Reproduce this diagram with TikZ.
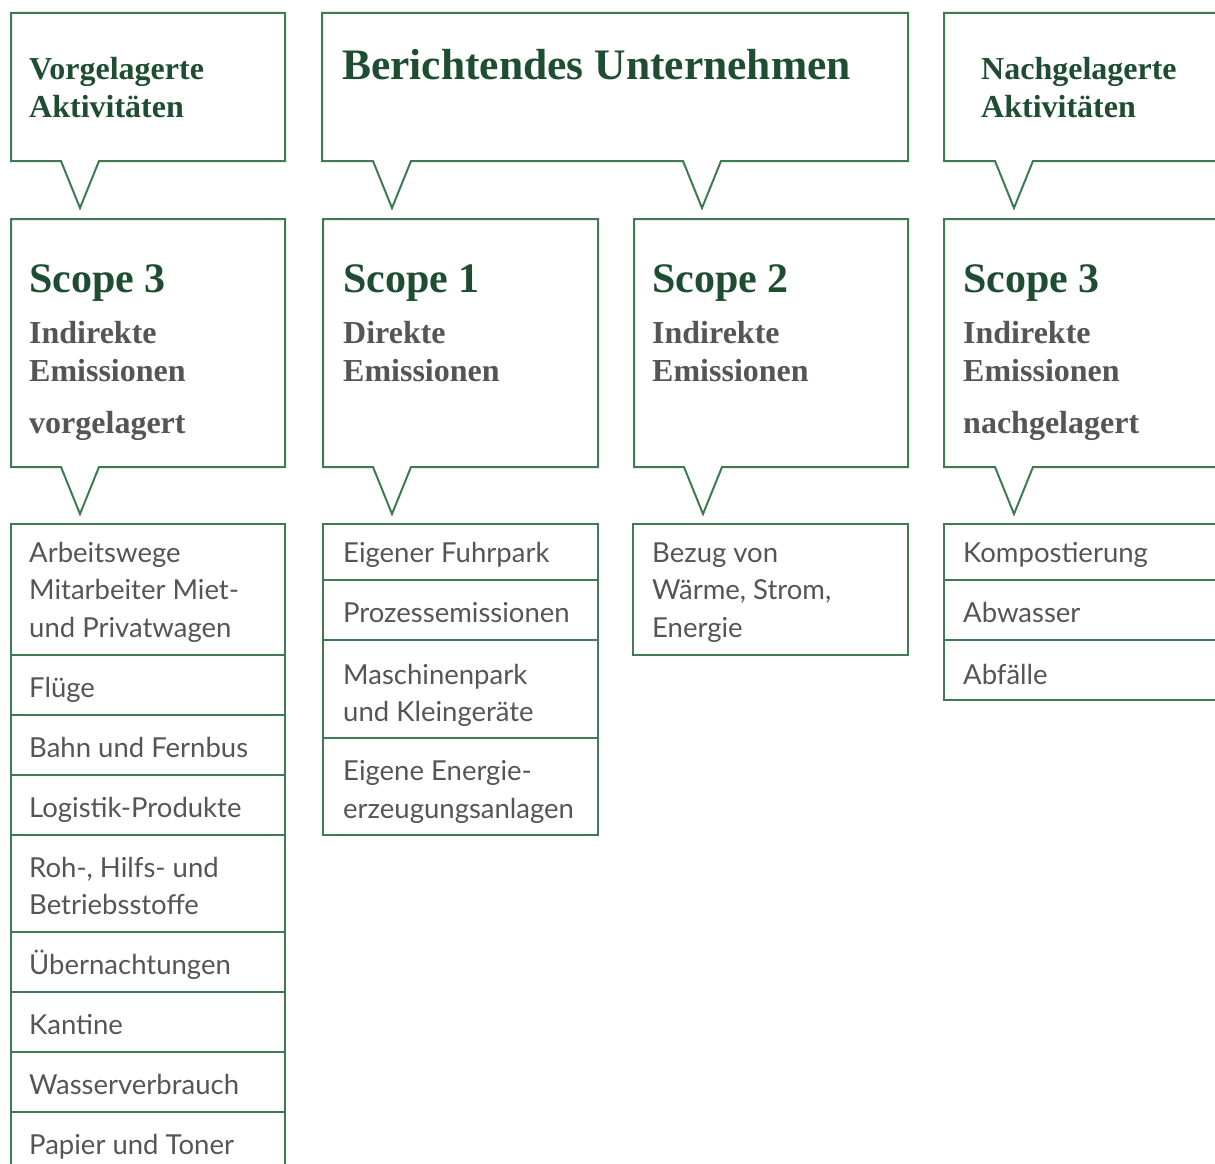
\documentclass[tikz,border=0pt]{standalone}
\usepackage{fontspec}
\setmainfont{Liberation Serif}
\newfontfamily\lato{Lato}
\definecolor{frame}{HTML}{3F7A55}
\definecolor{head}{HTML}{1F4D31}
\definecolor{txt}{HTML}{555555}
\tikzset{
  frm/.style={draw=frame, line width=2pt, line join=miter},
  item/.style={anchor=base west, inner sep=0pt, text=txt, align=left,
    font=\lato\fontsize{27.5}{37.5}\selectfont},
  tophead/.style={anchor=base west, inner sep=0pt, text=head, align=left,
    font=\bfseries\fontsize{32}{37}\selectfont},
  bighead/.style={anchor=base west, inner sep=0pt, text=head,
    font=\bfseries\fontsize{43.5}{50}\selectfont},
  scopehead/.style={anchor=base west, inner sep=0pt, text=head,
    font=\bfseries\fontsize{42}{50}\selectfont},
  subhead/.style={anchor=base west, inner sep=0pt, text=txt, align=left,
    font=\bfseries\fontsize{32}{38}\selectfont},
}
\newcommand{\calloutbox}[5]{%
  \draw[frm] (#1,#2) -- (#3,#2) -- (#3,#4) -- ({#5+19},#4) -- (#5,{#4+47}) -- ({#5-19},#4) -- (#1,#4) -- cycle;}
\begin{document}
\begin{tikzpicture}[x=1pt,y=-1pt]
\useasboundingbox (0,0) rectangle (1215,1164);
% top callouts
\calloutbox{11}{13}{285}{161}{80}
\draw[frm] (322,13) -- (908,13) -- (908,161) -- (721,161) -- (702,208) -- (683,161)
  -- (411,161) -- (392,208) -- (373,161) -- (322,161) -- cycle;
\calloutbox{944}{13}{1240}{161}{1014}
% (multi-line nodes: base anchor = last line baseline)
\node[tophead] (vor) at (29,117) {Vorgelagerte\\Aktivitäten};
\node[bighead] (ber) at (342,79) {Berichtendes Unternehmen};
\node[tophead] (nach) at (981,117) {Nachgelagerte\\Aktivitäten};
% scope callouts
\calloutbox{11}{219}{285}{467}{80}
\calloutbox{323}{219}{598}{467}{392}
\calloutbox{634}{219}{908}{467}{703}
\calloutbox{944}{219}{1240}{467}{1014}
\node[scopehead] (s3a) at (29,292) {Scope 3};
\node[subhead] (s3at) at (29,381) {Indirekte\\Emissionen};
\node[subhead] (s3av) at (29,433) {vorgelagert};
\node[scopehead] (s1) at (343,292) {Scope 1};
\node[subhead] (s1t) at (343,381) {Direkte\\Emissionen};
\node[scopehead] (s2) at (652,292) {Scope 2};
\node[subhead] (s2t) at (652,381) {Indirekte\\Emissionen};
\node[scopehead] (s3b) at (963,292) {Scope 3};
\node[subhead] (s3bt) at (963,381) {Indirekte\\Emissionen};
\node[subhead] (s3bn) at (963,433) {nachgelagert};
% left column
\draw[frm] (11,524) rectangle (285,655);
\draw[frm] (11,655) rectangle (285,715);
\draw[frm] (11,715) rectangle (285,775);
\draw[frm] (11,775) rectangle (285,835);
\draw[frm] (11,835) rectangle (285,932);
\draw[frm] (11,932) rectangle (285,992);
\draw[frm] (11,992) rectangle (285,1052);
\draw[frm] (11,1052) rectangle (285,1112);
\draw[frm] (11,1112) rectangle (285,1190);
\node[item] (a1) at (29,637) {Arbeitswege\\Mitarbeiter Miet-\\und Privatwagen};
\node[item] (a2) at (29,697) {Flüge};
\node[item] (a3) at (29,757) {Bahn und Fernbus};
\node[item] (a4) at (29,817) {Logistik-Produkte};
\node[item] (a5) at (29,914.5) {Roh-, Hilfs- und\\Betriebsstoffe};
\node[item] (a6) at (29,974) {Übernachtungen};
\node[item] (a7) at (29,1034) {Kantine};
\node[item] (a8) at (29,1094) {Wasserverbrauch};
\node[item] (a9) at (29,1154) {Papier und Toner};
% scope 1 column
\draw[frm] (323,524) rectangle (598,580);
\draw[frm] (323,580) rectangle (598,640);
\draw[frm] (323,640) rectangle (598,738);
\draw[frm] (323,738) rectangle (598,835);
\node[item] (b1) at (343,562) {Eigener Fuhrpark};
\node[item] (b2) at (343,622) {Prozessemissionen};
\node[item] (b3) at (343,721.5) {Maschinenpark\\und Kleingeräte};
\node[item] (b4) at (343,818) {Eigene Energie-\\erzeugungsanlagen};
% scope 2 column
\draw[frm] (633,524) rectangle (908,655);
\node[item] (c1) at (652,637) {Bezug von\\Wärme, Strom,\\Energie};
% right column
\draw[frm] (944,524) rectangle (1240,580);
\draw[frm] (944,580) rectangle (1240,640);
\draw[frm] (944,640) rectangle (1240,700);
\node[item] (d1) at (963,562) {Kompostierung};
\node[item] (d2) at (963,622) {Abwasser};
\node[item] (d3) at (963,684) {Abfälle};
\end{tikzpicture}
\end{document}
